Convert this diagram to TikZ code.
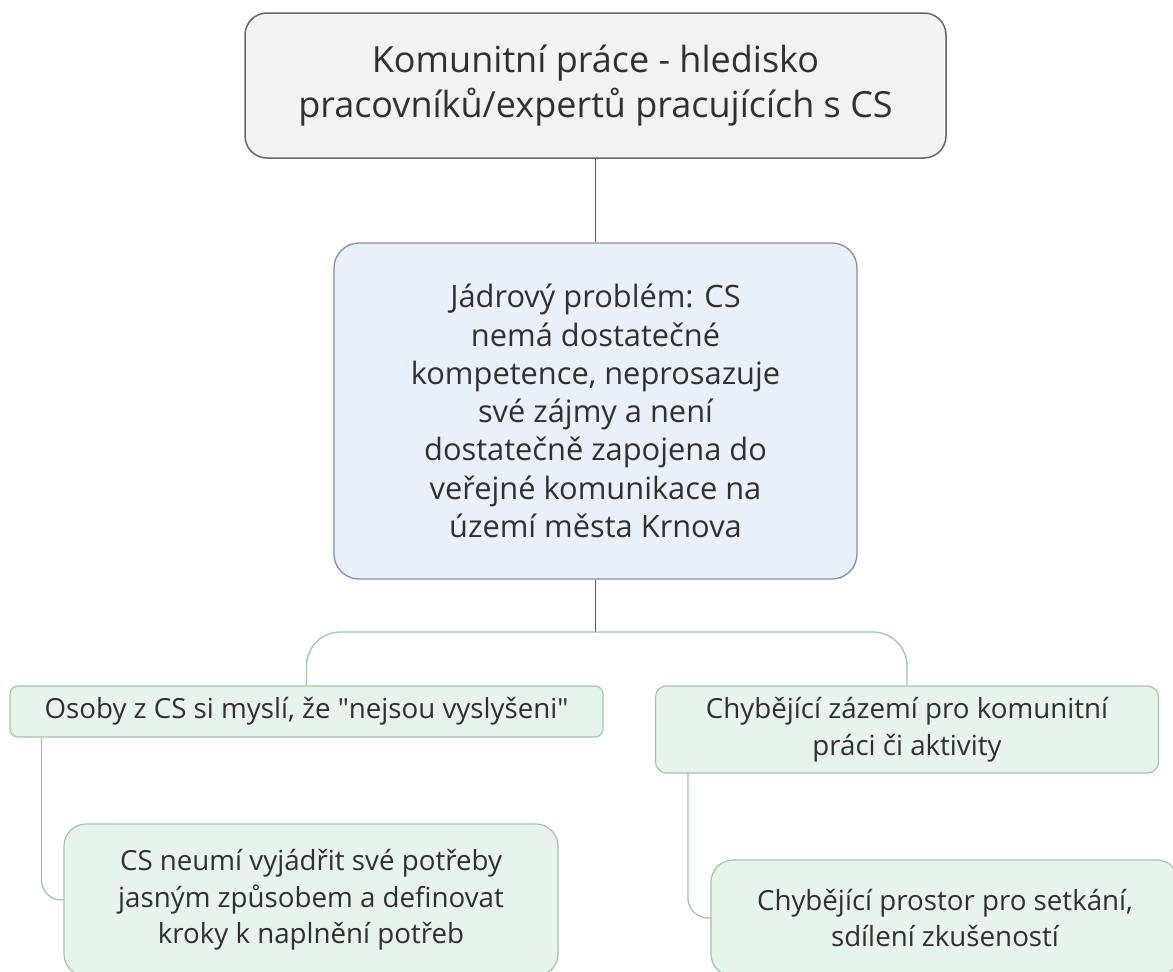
\documentclass[tikz,border=0pt]{standalone}
\usepackage{fontspec}
\setmainfont{Open Sans}
\definecolor{txt}{HTML}{303030}
\definecolor{rootfill}{HTML}{F2F2F2}
\definecolor{rootline}{HTML}{666666}
\definecolor{corefill}{HTML}{E9F0FA}
\definecolor{coreline}{HTML}{7F8FA6}
\definecolor{grfill}{HTML}{E7F3EB}
\definecolor{grline}{HTML}{A3C3AD}
\definecolor{darkcon}{HTML}{4E6072}
\tikzset{
  box/.style={rectangle, inner sep=0pt, align=center, text=txt},
  rootbox/.style={box, fill=rootfill, draw=rootline, line width=1.5pt, rounded corners=22pt,
    minimum width=701pt, minimum height=145pt,
    font=\fontsize{36}{45}\selectfont},
  corebox/.style={box, fill=corefill, draw=coreline, line width=1.3pt, rounded corners=25pt,
    minimum width=523pt, minimum height=336pt,
    font=\fontsize{30.8}{38.3}\selectfont},
  grbox/.style={box, fill=grfill, draw=grline, line width=1.2pt,
    font=\fontsize{27.7}{36.7}\selectfont},
  darkline/.style={draw=darkcon, line width=1.3pt},
  grcon/.style={draw=grline, line width=1.3pt},
}
\begin{document}
\begin{tikzpicture}[x=1pt, y=-1pt]
\useasboundingbox (0,0) rectangle (1173,972);
\fill[white] (0,0) rectangle (1173,972);

\node[rootbox] (root) at (595.5,85.5) {Komunitní práce - hledisko\\pracovníků/expertů pracujících s CS};
\node[corebox] (core) at (595.5,411) {Jádrový problém: CS\\nemá dostatečné\\kompetence, neprosazuje\\své zájmy a není\\dostatečně zapojena do\\veřejné komunikace na\\území města Krnova};

\node[grbox, rounded corners=8pt, minimum width=593pt, minimum height=51pt] (left) at (306.5,711.5) {Osoby z CS si myslí, že \textquotedbl nejsou vyslyšeni\textquotedbl};
\node[grbox, rounded corners=11pt, minimum width=503pt, minimum height=87pt] (right) at (907,729.5) {Chybějící zázemí pro komunitní\\práci či aktivity};

\node[grbox, rounded corners=22pt, minimum width=494pt, minimum height=152pt] (lchild) at (311,900) {CS neumí vyjádřit své potřeby\\jasným způsobem a definovat\\kroky k naplnění potřeb};
\node[grbox, rounded corners=22pt, minimum width=468pt, minimum height=116pt] (rchild) at (945,918) {Chybějící prostor pro setkání,\\sdílení zkušeností};

\coordinate (hub) at (595.5,632);

\draw[darkline] (root.south) -- (core.north);
\draw[darkline] (core.south) -- (hub);
\draw[grcon, rounded corners=34pt] (hub) -| (left.north);
\draw[grcon, rounded corners=34pt] (hub) -| (right.north);
\draw[grcon, rounded corners=20pt] ([xshift=32pt]left.south west) |- (lchild.west);
\draw[grcon, rounded corners=20pt] ([xshift=33pt]right.south west) |- (rchild.west);
\end{tikzpicture}
\end{document}
